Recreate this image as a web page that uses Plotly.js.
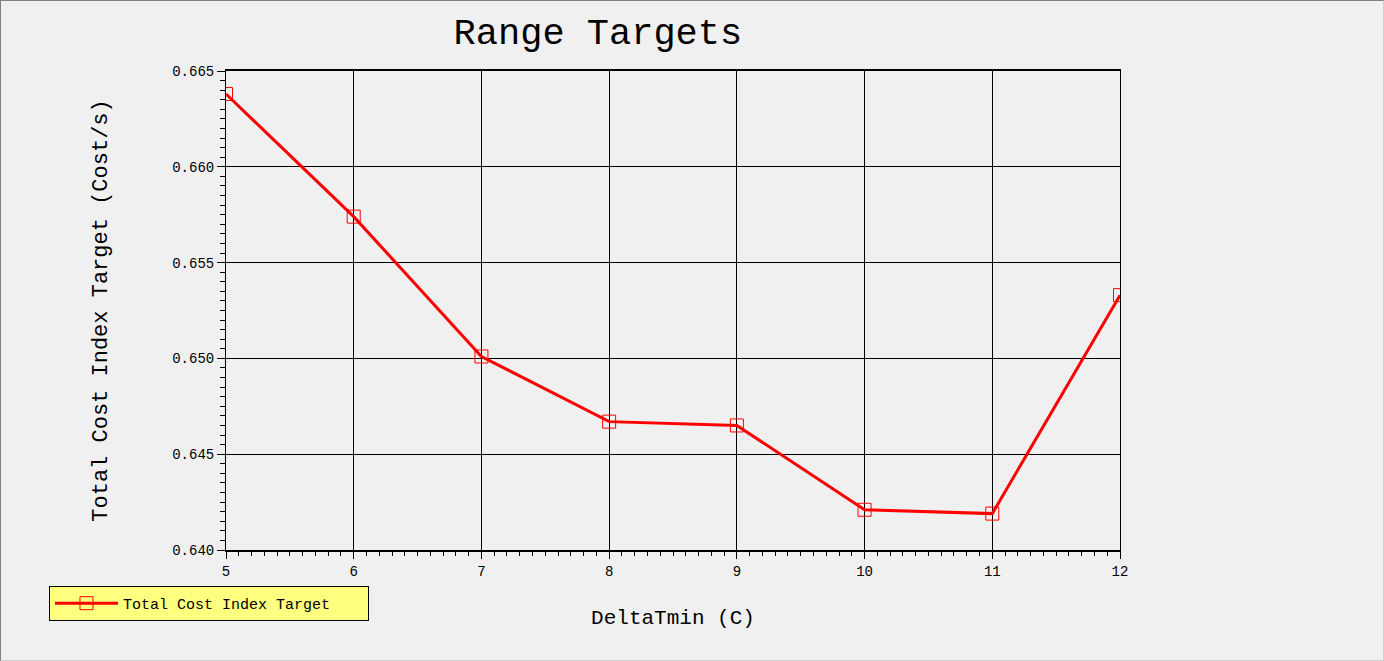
<!DOCTYPE html>
<html>
<head>
<meta charset="utf-8">
<script src="https://cdn.plot.ly/plotly-3.0.1.min.js"></script>
<style>
  html, body { margin: 0; padding: 0; background: #f0f0f0; }
  #wrap { position: relative; width: 1384px; height: 661px; }
  #chart { width: 1384px; height: 661px; }
  #frame {
    position: absolute; left: 0; top: 0; width: 1382px; height: 659px;
    border-top: 1px solid #808080; border-left: 1px solid #808080;
    border-right: 1px solid #d0d0d0; border-bottom: 1px solid #d0d0d0;
    pointer-events: none;
  }
</style>
</head>
<body>
<div id="wrap">
  <div id="chart"></div>
  <div id="frame"></div>
</div>
<script>
// DeltaTmin values and the target
var deltaTmin = [5, 6, 7, 8, 9, 10, 11, 12];
var costTarget = [0.6638, 0.6574, 0.6501, 0.6467, 0.6465, 0.6421, 0.6419, 0.6533];
var xTicks = [5, 6, 7, 8, 9, 10, 11, 12];
var yTicks = [0.640, 0.645, 0.650, 0.655, 0.660, 0.665];
var yTickText = ['0.640', '0.645', '0.650', '0.655', '0.660', '0.665'];

var font = 'Liberation Mono, DejaVu Sans Mono, monospace';

var trace = {
  x: deltaTmin,
  y: costTarget,
  name: 'Total Cost Index Target',
  mode: 'lines+markers',
  type: 'scatter',
  cliponaxis: true,
  line: {color: '#ff0000', width: 3},
  marker: {symbol: 'square-open', size: 13, color: '#ff0000', line: {width: 1, color: '#ff0000'}}
};

var layout = {
  width: 1384,
  height: 661,
  paper_bgcolor: '#f0f0f0',
  plot_bgcolor: '#f0f0f0',
  margin: {l: 226, r: 264, t: 71, b: 111},
  font: {family: font, color: '#000000', size: 14},
  title: {
    text: 'Range Targets',
    font: {family: font, size: 37, color: '#000000'},
    xref: 'paper', x: 0.416, xanchor: 'center',
    yref: 'container', y: 0.953, yanchor: 'middle'
  },
  xaxis: {
    range: [5, 12],
    tickvals: xTicks,
    ticks: 'outside',
    ticklen: 7,
    tickcolor: '#000000',
    showgrid: true,
    gridcolor: '#000000',
    gridwidth: 1,
    showline: true,
    linecolor: '#000000',
    linewidth: 2,
    mirror: true,
    zeroline: false,
    tickfont: {family: font, size: 14},
    minor: {dtick: 0.1, ticks: 'outside', ticklen: 4, tickcolor: '#000000', showgrid: false},
    title: {text: 'DeltaTmin (C)', font: {family: font, size: 21}, standoff: 31}
  },
  yaxis: {
    range: [0.640, 0.665],
    tickvals: yTicks,
    ticktext: yTickText,
    ticks: 'outside',
    ticklen: 8,
    tickcolor: '#000000',
    showgrid: true,
    gridcolor: '#000000',
    gridwidth: 1,
    showline: true,
    linecolor: '#000000',
    linewidth: 1,
    mirror: true,
    zeroline: false,
    tickfont: {family: font, size: 14},
    minor: {dtick: 0.0005, ticks: 'outside', ticklen: 5, tickcolor: '#000000', showgrid: false},
    title: {text: 'Total Cost Index Target (Cost/s)', font: {family: font, size: 22}, standoff: 58}
  },
  showlegend: true,
  legend: {
    orientation: 'h',
    x: -0.198, xanchor: 'left',
    y: -0.075, yanchor: 'top',
    itemwidth: 63,
    entrywidth: 240,
    entrywidthmode: 'pixels',
    bgcolor: '#ffff80',
    bordercolor: '#000000',
    borderwidth: 1,
    font: {family: font, size: 15, color: '#000000'}
  }
};

Plotly.newPlot('chart', [trace], layout, {displayModeBar: false, staticPlot: true});
</script>
</body>
</html>
